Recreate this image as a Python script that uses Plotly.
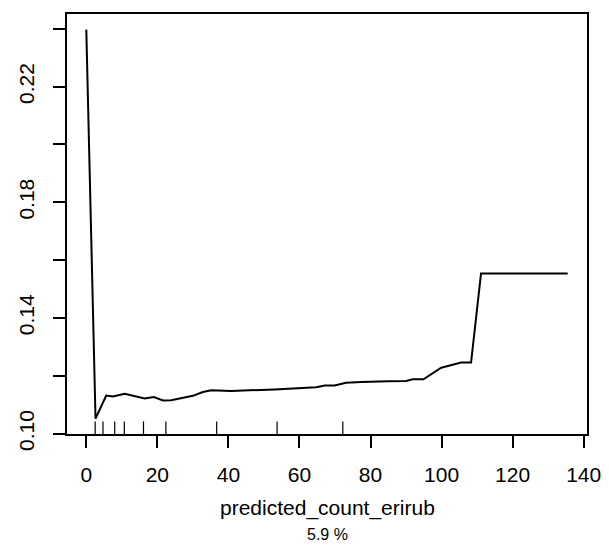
import plotly.graph_objects as go

# partial dependence values
pd_x = [0, 2.6, 5.6, 7.5, 10.8, 13.6, 16.4, 19.0, 21.6, 23.9, 27.2, 30.0, 32.8,
        35.2, 40.8, 48.3, 53.0, 59.5, 64.7, 67.1, 69.9, 73.1, 77.4, 84.9, 90.0,
        91.9, 94.9, 99.9, 102.5, 105.5, 108.3, 111.1, 135.5]
pd_y = [0.2397, 0.1052, 0.1132, 0.1129, 0.1138, 0.1130, 0.1122, 0.1127, 0.1115,
        0.1116, 0.1123, 0.1131, 0.1144, 0.1150, 0.1148, 0.1150, 0.1153, 0.1157,
        0.1161, 0.1167, 0.1167, 0.1176, 0.1179, 0.1181, 0.1182, 0.1188, 0.1188,
        0.1228, 0.1236, 0.1246, 0.1246, 0.1554, 0.1554]

# deciles shown as rug
rug_x = [2.5, 4.7, 8.0, 10.7, 16.1, 22.4, 36.7, 53.7, 72.2]

x_ticks = [0, 20, 40, 60, 80, 100, 120, 140]
y_ticks = [0.10, 0.12, 0.14, 0.16, 0.18, 0.20, 0.22, 0.24]
y_labels = ["0.10", "", "0.14", "", "0.18", "", "0.22", ""]

x_title = "predicted_count_erirub"
sub_title = "5.9 %"

FONT = "Liberation Sans, Arial, Helvetica, sans-serif"

fig = go.Figure()
fig.add_trace(go.Scatter(x=pd_x, y=pd_y, mode="lines",
                         line=dict(color="black", width=2), showlegend=False,
                         hoverinfo="skip"))

for rx in rug_x:
    fig.add_shape(type="line", xref="x", yref="y domain", x0=rx, x1=rx,
                  y0=0, y1=0.03, line=dict(color="black", width=1.2))

fig.add_annotation(text=x_title, xref="paper", yref="paper", x=0.5, y=-0.177,
                   xanchor="center", yanchor="middle", showarrow=False,
                   borderpad=0,
                   font=dict(size=21, color="black", family=FONT))
fig.add_annotation(text=sub_title, xref="paper", yref="paper", x=0.5, y=-0.239,
                   xanchor="center", yanchor="middle", showarrow=False,
                   borderpad=0,
                   font=dict(size=16, color="black", family=FONT))

axis_common = dict(showline=True, linecolor="black", linewidth=2, mirror=True,
                   showgrid=False, zeroline=False, ticks="outside", ticklen=12,
                   tickwidth=2, tickcolor="black", automargin=False,
                   tickfont=dict(size=21, color="black", family=FONT))

fig.update_xaxes(range=[-5.43, 140.93], tickvals=x_ticks,
                 ticktext=[str(v) for v in x_ticks], ticklabelstandoff=9,
                 **axis_common)
fig.update_yaxes(range=[0.0999, 0.2451], tickvals=y_ticks, ticktext=y_labels,
                 tickangle=-90, ticklabelstandoff=11, **axis_common)

fig.update_layout(width=609, height=546, margin=dict(l=59, r=30, t=6, b=120),
                  plot_bgcolor="white", paper_bgcolor="white",
                  font=dict(family=FONT, color="black"))

fig.write_html("out.html")
